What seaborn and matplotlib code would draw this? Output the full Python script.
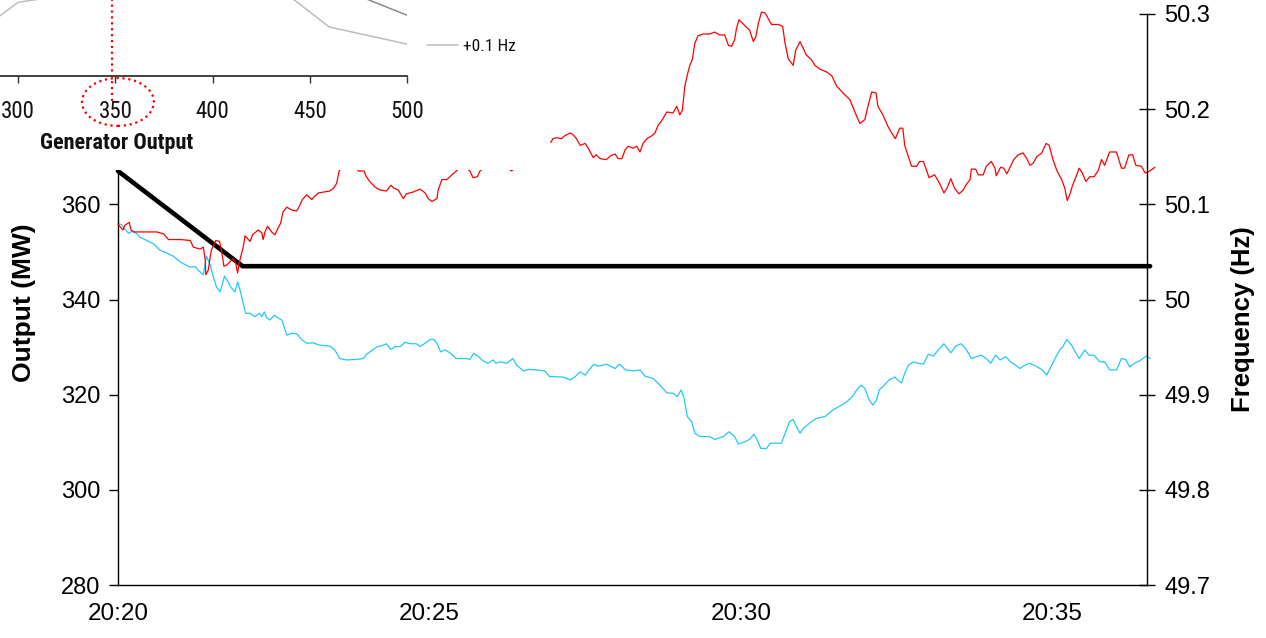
import matplotlib
matplotlib.use("Agg")
import matplotlib.pyplot as plt
import seaborn as sns
from matplotlib.patches import Rectangle, Ellipse
from matplotlib import font_manager
from matplotlib.font_manager import FontProperties

# ---------------- data ----------------
# time in minutes after 20:20
red_t = [0.00, 0.08, 0.11, 0.18, 0.21, 0.26, 0.41, 0.62, 0.73, 0.81,
         1.00, 1.16, 1.21, 1.32, 1.37, 1.40, 1.41, 1.45, 1.48, 1.50,
         1.57, 1.63, 1.66, 1.70, 1.74, 1.85, 1.89, 1.92, 1.94, 1.97,
         2.01, 2.04, 2.08, 2.12, 2.16, 2.25, 2.31, 2.33, 2.36, 2.40,
         2.48, 2.52, 2.57, 2.61, 2.65, 2.71, 2.79, 2.87, 2.92, 2.96,
         3.03, 3.11, 3.15, 3.22, 3.40, 3.46, 3.51, 3.55, 3.71, 3.86,
         3.95, 3.98, 4.04, 4.13, 4.21, 4.31, 4.38, 4.43, 4.50, 4.58,
         4.63, 4.74, 4.85, 4.93, 4.98, 5.04, 5.12, 5.14, 5.20, 5.28,
         5.36, 5.43, 5.54, 5.65, 5.70, 5.77, 5.81, 6.05, 6.32, 6.61,
         6.96, 6.98, 7.04, 7.12, 7.17, 7.26, 7.31, 7.36, 7.42, 7.50,
         7.55, 7.63, 7.68, 7.74, 7.84, 7.91, 7.98, 8.03, 8.09, 8.14,
         8.19, 8.27, 8.33, 8.38, 8.43, 8.49, 8.57, 8.62, 8.67, 8.73,
         8.81, 8.91, 8.97, 9.02, 9.06, 9.10, 9.14, 9.18, 9.22, 9.26,
         9.31, 9.39, 9.50, 9.58, 9.66, 9.74, 9.80, 9.85, 9.90, 9.93,
         9.97, 10.06, 10.14, 10.20, 10.24, 10.28, 10.33, 10.39, 10.44, 10.49,
         10.60, 10.67, 10.71, 10.76, 10.84, 10.88, 10.95, 11.00, 11.05, 11.13,
         11.19, 11.27, 11.38, 11.46, 11.54, 11.64, 11.75, 11.83, 11.91, 11.99,
         12.04, 12.10, 12.17, 12.20, 12.28, 12.36, 12.42, 12.48, 12.55, 12.60,
         12.63, 12.69, 12.74, 12.82, 12.87, 12.93, 12.98, 13.02, 13.11, 13.19,
         13.26, 13.31, 13.37, 13.43, 13.50, 13.57, 13.62, 13.68, 13.70, 13.77,
         13.81, 13.89, 13.94, 14.02, 14.08, 14.10, 14.17, 14.22, 14.27, 14.33,
         14.38, 14.45, 14.53, 14.59, 14.64, 14.69, 14.75, 14.83, 14.90, 14.95,
         15.01, 15.07, 15.15, 15.20, 15.24, 15.28, 15.32, 15.38, 15.43, 15.48,
         15.54, 15.60, 15.67, 15.74, 15.79, 15.84, 15.92, 16.03, 16.11, 16.16,
         16.23, 16.29, 16.34, 16.43, 16.49, 16.54, 16.65]
# frequency (Hz)
red_f = [50.079, 50.073, 50.078, 50.081, 50.073, 50.071, 50.071, 50.071, 50.069, 50.063,
         50.063, 50.062, 50.055, 50.053, 50.055, 50.042, 50.026, 50.031, 50.045, 50.052,
         50.062, 50.061, 50.052, 50.035, 50.036, 50.043, 50.038, 50.028, 50.036, 50.045,
         50.055, 50.067, 50.064, 50.061, 50.068, 50.073, 50.070, 50.063, 50.071, 50.077,
         50.070, 50.068, 50.075, 50.080, 50.092, 50.097, 50.094, 50.093, 50.099, 50.105,
         50.110, 50.105, 50.108, 50.112, 50.114, 50.117, 50.122, 50.135, 50.147, 50.135,
         50.135, 50.130, 50.124, 50.118, 50.115, 50.114, 50.120, 50.117, 50.115, 50.106,
         50.111, 50.113, 50.116, 50.112, 50.106, 50.103, 50.106, 50.115, 50.126, 50.126,
         50.131, 50.135, 50.141, 50.135, 50.128, 50.129, 50.135, 50.147, 50.135, 50.155,
         50.166, 50.169, 50.170, 50.169, 50.172, 50.175, 50.173, 50.169, 50.162, 50.164,
         50.159, 50.149, 50.152, 50.148, 50.147, 50.151, 50.153, 50.148, 50.148, 50.157,
         50.161, 50.159, 50.161, 50.155, 50.164, 50.169, 50.172, 50.175, 50.183, 50.188,
         50.197, 50.196, 50.203, 50.194, 50.199, 50.224, 50.236, 50.246, 50.252, 50.269,
         50.277, 50.279, 50.279, 50.281, 50.278, 50.278, 50.267, 50.266, 50.273, 50.285,
         50.294, 50.288, 50.283, 50.271, 50.276, 50.290, 50.302, 50.301, 50.295, 50.289,
         50.289, 50.287, 50.269, 50.253, 50.246, 50.262, 50.271, 50.264, 50.257, 50.252,
         50.246, 50.242, 50.239, 50.235, 50.224, 50.217, 50.210, 50.197, 50.185, 50.189,
         50.203, 50.218, 50.217, 50.203, 50.194, 50.182, 50.175, 50.169, 50.180, 50.180,
         50.162, 50.150, 50.140, 50.140, 50.145, 50.145, 50.136, 50.128, 50.131, 50.122,
         50.112, 50.117, 50.127, 50.117, 50.111, 50.115, 50.121, 50.126, 50.137, 50.137,
         50.131, 50.131, 50.140, 50.145, 50.138, 50.130, 50.139, 50.138, 50.132, 50.140,
         50.147, 50.152, 50.154, 50.148, 50.141, 50.143, 50.150, 50.154, 50.164, 50.162,
         50.147, 50.136, 50.126, 50.117, 50.104, 50.110, 50.119, 50.129, 50.138, 50.133,
         50.124, 50.129, 50.129, 50.136, 50.147, 50.141, 50.155, 50.155, 50.138, 50.138,
         50.152, 50.152, 50.141, 50.140, 50.133, 50.134, 50.139]

cyan_t = [0.00, 0.06, 0.11, 0.17, 0.22, 0.30, 0.35, 0.46, 0.57, 0.67,
          0.78, 0.89, 1.00, 1.08, 1.16, 1.24, 1.29, 1.37, 1.42, 1.48,
          1.53, 1.58, 1.64, 1.71, 1.75, 1.81, 1.88, 1.92, 1.96, 2.01,
          2.05, 2.12, 2.20, 2.27, 2.31, 2.35, 2.39, 2.44, 2.51, 2.57,
          2.63, 2.71, 2.79, 2.87, 2.95, 3.03, 3.13, 3.24, 3.40, 3.48,
          3.56, 3.67, 3.83, 3.94, 3.99, 4.10, 4.15, 4.26, 4.31, 4.38,
          4.45, 4.53, 4.61, 4.69, 4.79, 4.85, 4.93, 5.01, 5.07, 5.12,
          5.18, 5.25, 5.33, 5.43, 5.60, 5.65, 5.71, 5.78, 5.86, 5.94,
          6.02, 6.07, 6.13, 6.24, 6.34, 6.40, 6.51, 6.59, 6.72, 6.85,
          6.93, 7.15, 7.26, 7.34, 7.42, 7.50, 7.58, 7.64, 7.71, 7.84,
          7.98, 8.05, 8.15, 8.27, 8.38, 8.46, 8.59, 8.67, 8.75, 8.81,
          8.91, 8.98, 9.04, 9.09, 9.14, 9.21, 9.26, 9.34, 9.50, 9.58,
          9.72, 9.81, 9.90, 9.96, 10.06, 10.14, 10.21, 10.25, 10.32, 10.41,
          10.47, 10.65, 10.71, 10.78, 10.84, 10.89, 10.95, 11.00, 11.11, 11.21,
          11.35, 11.48, 11.59, 11.70, 11.79, 11.86, 11.93, 11.99, 12.06, 12.12,
          12.18, 12.22, 12.28, 12.38, 12.47, 12.55, 12.58, 12.63, 12.69, 12.77,
          12.85, 12.93, 13.01, 13.09, 13.17, 13.26, 13.37, 13.45, 13.53, 13.61,
          13.70, 13.79, 13.86, 13.94, 14.01, 14.09, 14.16, 14.25, 14.33, 14.41,
          14.48, 14.56, 14.64, 14.75, 14.84, 14.91, 14.99, 15.06, 15.12, 15.17,
          15.23, 15.31, 15.38, 15.43, 15.52, 15.59, 15.67, 15.76, 15.84, 15.92,
          16.03, 16.11, 16.18, 16.24, 16.32, 16.40, 16.51, 16.57]
# generator output (MW)
cyan_mw = [356.0, 355.7, 354.8, 353.9, 354.3, 353.9, 353.1, 352.4, 351.7, 350.4,
           349.8, 349.1, 347.9, 347.3, 346.8, 346.9, 346.1, 345.2, 349.1, 347.3,
           344.8, 342.7, 341.6, 344.9, 344.1, 342.6, 341.6, 343.7, 342.0, 339.2,
           337.1, 337.1, 336.4, 337.1, 336.4, 337.4, 336.1, 335.7, 336.7, 336.1,
           335.7, 332.5, 332.9, 332.8, 331.6, 330.8, 330.9, 330.4, 330.2, 329.4,
           327.6, 327.3, 327.4, 327.6, 328.5, 329.5, 330.0, 330.4, 330.7, 329.5,
           330.1, 330.1, 331.0, 330.7, 330.7, 330.1, 330.8, 331.6, 331.6, 330.8,
           329.0, 329.4, 328.8, 327.6, 327.6, 327.4, 328.7, 328.1, 327.1, 326.6,
           327.3, 326.6, 326.9, 326.6, 327.6, 326.2, 325.0, 325.3, 325.2, 325.0,
           323.8, 323.7, 323.1, 323.8, 324.8, 324.1, 325.5, 326.4, 326.0, 326.4,
           325.5, 326.4, 325.2, 325.0, 325.2, 323.9, 323.4, 322.4, 321.3, 320.4,
           320.3, 319.6, 321.0, 319.2, 315.4, 314.3, 311.9, 311.2, 311.2, 310.6,
           311.2, 312.2, 311.2, 309.6, 310.1, 310.6, 311.7, 310.8, 308.7, 308.7,
           309.8, 309.8, 311.9, 314.3, 314.8, 313.3, 311.9, 312.9, 314.1, 315.0,
           315.4, 316.8, 317.6, 318.5, 319.6, 321.0, 322.0, 321.3, 318.9, 317.8,
           318.9, 321.0, 321.7, 323.1, 323.7, 322.7, 322.5, 324.5, 326.2, 326.9,
           326.6, 326.4, 328.5, 328.1, 329.4, 330.7, 328.8, 330.2, 330.7, 329.7,
           327.6, 328.0, 328.3, 327.6, 326.6, 328.3, 327.3, 328.0, 326.9, 326.2,
           325.5, 326.2, 326.6, 325.9, 325.2, 324.1, 326.2, 328.0, 329.4, 330.1,
           331.6, 330.4, 328.7, 327.6, 329.4, 328.3, 328.3, 326.9, 326.9, 325.2,
           325.2, 327.6, 327.4, 325.8, 326.6, 327.1, 328.1, 327.6]

# output set-point (MW)
black_t = [0.0, 2.0, 16.57]
black_mw = [367.0, 347.0, 347.0]

x_ticks = [0, 5, 10, 15]
x_tick_labels = ["20:20", "20:25", "20:30", "20:35"]
mw_ticks = [280, 300, 320, 340, 360]
hz_ticks = [49.7, 49.8, 49.9, 50.0, 50.1, 50.2, 50.3]
hz_tick_labels = ["49.7", "49.8", "49.9", "50", "50.1", "50.2", "50.3"]

# inset (droop characteristic)
inset_light_x = [290, 300, 313, 441, 460, 500]
inset_light_y = [78, 97, 102, 102, 64.5, 42]
inset_dark_x = [478, 500]
inset_dark_y = [102.5, 80]
inset_ticks = [300, 350, 400, 450, 500]
marked_output = 348.5

# ---------------- style ----------------
sns.set_style("white")
plt.rcParams["font.family"] = ["Liberation Sans", "DejaVu Sans"]
for key in ("text.color", "axes.labelcolor", "xtick.color", "ytick.color", "axes.edgecolor"):
    plt.rcParams[key] = "black"


def _w(f):
    w = f.weight
    if isinstance(w, str):
        w = font_manager.weight_dict.get(w, 400)
    return w


def find_condensed(bold):
    pref = ["Liberation Sans Narrow", "Arial Narrow", "Roboto Condensed",
            "Open Sans Condensed", "Noto Sans Condensed", "DejaVu Sans Condensed"]
    cands = []
    for f in font_manager.fontManager.ttflist:
        if f.style != "normal":
            continue
        isbold = _w(f) >= 600
        if isbold != bold:
            continue
        if f.name in pref:
            cands.append((pref.index(f.name), f.fname))
        elif str(f.stretch) in ("condensed", "semi-condensed") and f.name in (
                "Liberation Sans", "Noto Sans", "Open Sans", "Roboto", "DejaVu Sans", "Lato", "Inter"):
            cands.append((10, f.fname))
    cands.sort()
    return cands[0][1] if cands else None


cond_reg = find_condensed(False)
cond_bold = find_condensed(True)


def inset_font(size, bold=False):
    path = cond_bold if bold else cond_reg
    if path:
        return FontProperties(fname=path, size=size)
    return FontProperties(family="Liberation Sans", size=size * 0.9,
                          weight="bold" if bold else "normal")


RED = "#FF0000"
CYAN = "#22C8F8"

W, H = 1266, 638
fig = plt.figure(figsize=(W / 100, H / 100), dpi=100)
fig.patch.set_facecolor("white")

ax = fig.add_axes([118 / W, 53 / H, 1029 / W, 571 / H])
ax2 = ax.twinx()

sns.lineplot(x=cyan_t, y=cyan_mw, ax=ax, color=CYAN, lw=0.9, estimator=None, sort=False)
sns.lineplot(x=black_t, y=black_mw, ax=ax, color="black", lw=3.3, estimator=None, sort=False)
sns.lineplot(x=red_t, y=red_f, ax=ax2, color=RED, lw=0.9, estimator=None, sort=False)
for ln in ax.lines + ax2.lines:
    ln.set_clip_on(False)

ax.set_xlim(0, 16.52)
ax.set_ylim(280, 400)
ax2.set_ylim(49.7, 50.3)

ax.set_xticks(x_ticks, labels=x_tick_labels)
ax.set_yticks(mw_ticks)
ax2.set_yticks(hz_ticks, labels=hz_tick_labels)

for a in (ax, ax2):
    a.spines["top"].set_visible(False)
    for s in a.spines.values():
        s.set_color("black")
        s.set_linewidth(1.0)
    a.grid(False)
ax.spines["right"].set_visible(False)
ax2.spines["left"].set_visible(False)
ax2.spines["bottom"].set_visible(False)

ax.tick_params(axis="y", direction="out", length=6.5, width=1, color="black",
               labelcolor="black", labelsize=17, pad=6, left=True)
ax.tick_params(axis="x", length=0, labelsize=17.5, pad=13, labelcolor="black")
ax2.tick_params(axis="y", direction="inout", length=11, width=1, color="black",
                labelcolor="black", labelsize=17, pad=7, right=True)

ax.set_ylabel("Output (MW)", fontsize=19, fontweight="bold", color="black")
ax.yaxis.set_label_coords(-0.080, 0.494)
ax2.set_ylabel("Frequency (Hz)", fontsize=18.5, fontweight="bold", color="black")
ax2.yaxis.set_label_coords(1.0816, 0.466)

# white panel behind the inset
fig.add_artist(Rectangle((0, (H - 170) / H), 550 / W, 170 / H, transform=fig.transFigure,
                         facecolor="white", edgecolor="none", zorder=5))

# ---------------- inset ----------------
ax_in = fig.add_axes([-79 / W, (H - 76) / H, 486 / W, 76 / H], zorder=10)
ax_in.patch.set_alpha(0)
sns.lineplot(x=inset_light_x, y=inset_light_y, ax=ax_in, color="#BDBDBD", lw=1.1,
             estimator=None, sort=False)
sns.lineplot(x=inset_dark_x, y=inset_dark_y, ax=ax_in, color="#8A8A8A", lw=1.1,
             estimator=None, sort=False)
ax_in.set_xlim(250, 500)
ax_in.set_ylim(0, 100)
for side in ("left", "top", "right"):
    ax_in.spines[side].set_visible(False)
ax_in.spines["bottom"].set_color("#333333")
ax_in.spines["bottom"].set_linewidth(1.3)
ax_in.set_yticks([])
ax_in.set_xticks(inset_ticks, labels=[str(v) for v in inset_ticks])
for lbl in ax_in.get_xticklabels():
    lbl.set_fontproperties(inset_font(16.5))
    lbl.set_color("#111111")
ax_in.tick_params(axis="x", direction="out", length=5, width=1, color="#333333",
                  pad=12, bottom=True)
ax_in.set_xlabel("Generator Output", fontproperties=inset_font(16, bold=True), color="#111111")
ax_in.xaxis.set_label_coords((116.6 + 79) / 486, (76 - 143) / 76)
ax_in.xaxis.label.set_va("center")

ax_in.axvline(marked_output, ymin=-0.33, ymax=1, color=RED, ls=":", lw=1.6, clip_on=False)
ell = Ellipse((351.3, -34.2), width=37, height=63, fill=False, edgecolor=RED,
              ls=":", lw=1.6, clip_on=False)
ax_in.add_patch(ell)

leg = ax_in.legend([ax_in.lines[0]], ["+0.1 Hz"], loc="center left",
                   bbox_to_anchor=(427 / W, 1 - 46 / H), bbox_transform=fig.transFigure,
                   frameon=False, handlelength=1.8, handletextpad=0.25, borderpad=0,
                   borderaxespad=0, prop=inset_font(12.5))
for t in leg.get_texts():
    t.set_color("#111111")

fig.savefig("out.png", dpi=100, facecolor="white")
